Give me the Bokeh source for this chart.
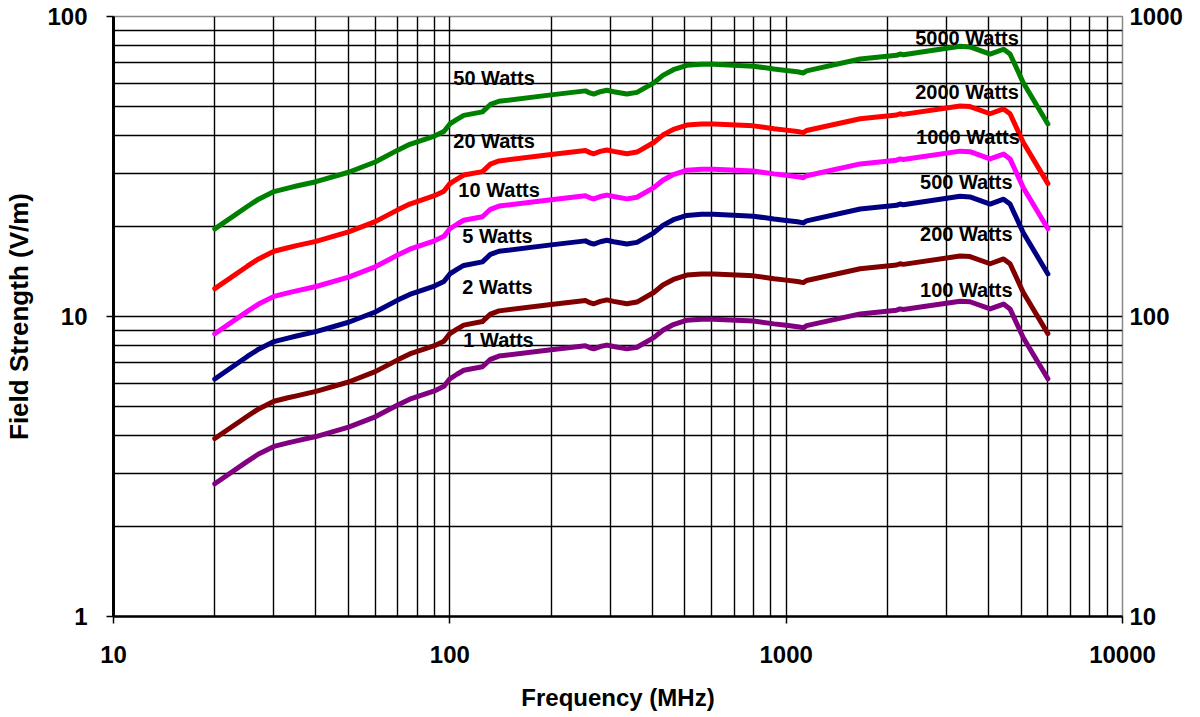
from bokeh.plotting import figure
from bokeh.models import (LogAxis, Range1d, LogScale, FixedTicker, PrintfTickFormatter)
from bokeh.core.properties import value
from bokeh.embed import file_html
from bokeh.resources import INLINE

# ---------------- data ----------------
freq_mhz = [20, 25, 27, 30, 33, 35, 40, 50, 60, 70, 76, 90, 96, 100, 105, 110, 125, 132, 140, 200,
            253, 262, 268, 280, 293, 307, 336, 360, 404, 430, 462, 507, 560, 608, 800, 920,
            1000, 1080, 1125, 1150, 1660, 2130, 2180, 2230, 3290, 3520, 4040, 4430, 4630,
            5070, 6000]

w1 = [2.77, 3.29, 3.48, 3.69, 3.79, 3.85, 3.98, 4.28, 4.63, 5.07, 5.30, 5.65, 5.85, 6.20, 6.42, 6.62, 6.80,
      7.20, 7.38, 7.75, 7.99, 7.85, 7.80, 7.94, 8.03, 7.94, 7.80, 7.90, 8.50, 9.00, 9.40, 9.72,
      9.80, 9.80, 9.66, 9.45, 9.35, 9.25, 9.17, 9.32, 10.2, 10.5, 10.6, 10.55, 11.25, 11.2,
      10.6, 11.0, 10.6, 8.5, 6.2]
w2 = [3.92, 4.65, 4.92, 5.22, 5.36, 5.44, 5.63, 6.05, 6.55, 7.17, 7.50, 7.99, 8.27, 8.77, 9.08, 9.36, 9.62,
      10.18, 10.44, 10.96, 11.30, 11.10, 11.03, 11.23, 11.36, 11.23, 11.03, 11.17, 12.02, 12.73,
      13.29, 13.75, 13.86, 13.86, 13.66, 13.36, 13.22, 13.08, 12.97, 13.18, 14.43, 14.85, 14.99,
      14.92, 15.91, 15.84, 14.99, 15.56, 14.99, 12.02, 8.77]
w5 = [6.19, 7.36, 7.78, 8.25, 8.47, 8.61, 8.90, 9.57, 10.35, 11.34, 11.85, 12.63, 13.08, 13.86, 14.36, 14.80,
      15.21, 16.10, 16.50, 17.33, 17.87, 17.55, 17.44, 17.75, 17.96, 17.75, 17.44, 17.66, 19.01,
      20.12, 21.02, 21.73, 21.91, 21.91, 21.60, 21.13, 20.91, 20.68, 20.51, 20.84, 22.81, 23.48,
      23.70, 23.59, 25.16, 25.04, 23.70, 24.60, 23.70, 19.01, 13.86]
w10 = [8.76, 10.40, 11.00, 11.67, 11.99, 12.17, 12.59, 13.53, 14.64, 16.03, 16.76, 17.87, 18.50, 19.61, 20.30,
       20.93, 21.50, 22.77, 23.34, 24.51, 25.27, 24.82, 24.67, 25.11, 25.39, 25.11, 24.67, 24.98,
       26.88, 28.46, 29.73, 30.74, 30.99, 30.99, 30.55, 29.88, 29.57, 29.25, 29.00, 29.47, 32.26,
       33.20, 33.52, 33.36, 35.58, 35.42, 33.52, 34.79, 33.52, 26.88, 19.61]
w20 = [12.39, 14.71, 15.56, 16.50, 16.95, 17.22, 17.80, 19.14, 20.71, 22.67, 23.70, 25.27, 26.16, 27.73, 28.71,
       29.61, 30.41, 32.20, 33.00, 34.66, 35.73, 35.11, 34.88, 35.51, 35.91, 35.51, 34.88, 35.33,
       38.01, 40.25, 42.04, 43.47, 43.83, 43.83, 43.20, 42.26, 41.81, 41.37, 41.01, 41.68, 45.62,
       46.96, 47.40, 47.18, 50.31, 50.09, 47.40, 49.19, 47.40, 38.01, 27.73]
w50 = [19.59, 23.26, 24.61, 26.09, 26.80, 27.22, 28.14, 30.26, 32.74, 35.85, 37.48, 39.95, 41.37, 43.84, 45.40,
       46.81, 48.08, 50.91, 52.18, 54.80, 56.50, 55.51, 55.15, 56.14, 56.78, 56.14, 55.15, 55.86,
       60.10, 63.64, 66.47, 68.73, 69.30, 69.30, 68.31, 66.82, 66.12, 65.41, 64.84, 65.90, 72.13,
       74.25, 74.95, 74.60, 79.55, 79.20, 74.95, 77.78, 74.95, 60.10, 43.84]

series = [w50, w20, w10, w5, w2, w1]
colors = ["#008000", "#FF0000", "#FF00FF", "#000080", "#800000", "#800080"]

left_labels = ["50 Watts", "20 Watts", "10 Watts", "5 Watts", "2 Watts", "1 Watts"]
left_label_x = [102.4, 102.4, 106, 108.9, 108.9, 109.7]
left_label_y = [62.2, 38.6, 26.5, 18.5, 12.5, 8.38]

right_labels = ["5000 Watts", "2000 Watts", "1000 Watts", "500 Watts", "200 Watts", "100 Watts"]
right_label_x = [2418, 2418, 2434, 2500, 2500, 2500]
right_label_y = [85.1, 56.2, 39.8, 28.0, 18.9, 12.3]

x_major = [10, 100, 1000, 10000]
x_minor = [m * d for d in (10, 100, 1000) for m in range(2, 10)]
y_major = [1, 10, 100]
y_minor = [m * d for d in (1, 10) for m in range(2, 10)]
yr_major = [10, 100, 1000]

FONT = "Liberation Sans"

p = figure(x_axis_type="log", y_axis_type="log", x_range=(10, 10000), y_range=(1, 100),
           frame_width=1009, frame_height=600, min_border_left=113, min_border_top=16,
           min_border_bottom=90, min_border_right=66,
           output_backend="svg", toolbar_location=None,
           x_axis_label="Frequency (MHz)", y_axis_label="Field Strength (V/m)")

p.outline_line_color = "#888888"
p.outline_line_width = 1.5

# grids
p.xgrid.ticker = FixedTicker(ticks=x_major, minor_ticks=x_minor)
p.ygrid.ticker = FixedTicker(ticks=y_major, minor_ticks=y_minor)
for g in (p.xgrid, p.ygrid):
    g.grid_line_color = "#000000"
    g.grid_line_width = 1.4
    g.minor_grid_line_color = "#000000"
    g.minor_grid_line_width = 1.4

# axes
for ax in (p.xaxis[0], p.yaxis[0]):
    ax.major_label_text_font = FONT
    ax.major_label_text_font_style = "bold"
    ax.major_label_text_font_size = "24px"
    ax.major_label_text_color = "#000000"
    ax.axis_label_text_font = FONT
    ax.axis_label_text_font_style = "bold"
    ax.axis_label_text_font_size = "24px"
    ax.axis_label_text_color = "#000000"
    ax.axis_line_color = "#000000"
    ax.major_tick_line_color = "#000000"
    ax.major_tick_line_width = 1.5
    ax.major_tick_in = 0
    ax.major_tick_out = 7
    ax.minor_tick_in = 0
    ax.minor_tick_out = 0
    ax.formatter = PrintfTickFormatter(format="%d")

p.xaxis[0].ticker = FixedTicker(ticks=x_major)
p.yaxis[0].ticker = FixedTicker(ticks=y_major)
p.xaxis[0].axis_line_width = 2.5
p.yaxis[0].axis_line_width = 3
p.xaxis[0].major_label_standoff = 22
p.xaxis[0].axis_label_standoff = 18
p.yaxis[0].major_label_standoff = 19
p.yaxis[0].axis_label_standoff = 10
p.yaxis[0].axis_label_text_font_size = "26px"

# right axis
p.extra_y_ranges = {"right": Range1d(10, 1000)}
p.extra_y_scales = {"right": LogScale()}
rax = LogAxis(y_range_name="right", ticker=FixedTicker(ticks=yr_major),
              formatter=PrintfTickFormatter(format="%d"))
rax.major_label_text_font = FONT
rax.major_label_text_font_style = "bold"
rax.major_label_text_font_size = "24px"
rax.major_label_text_color = "#000000"
rax.axis_line_color = None
rax.major_tick_in = 0
rax.major_tick_out = 0
rax.minor_tick_in = 0
rax.minor_tick_out = 0
rax.major_label_standoff = 7
p.add_layout(rax, "right")

# lines
for ys, c in zip(series, colors):
    p.line(freq_mhz, ys, line_color=c, line_width=5, line_join="round", line_cap="round")

# annotations
p.text(x=left_label_x, y=left_label_y, text=left_labels, text_font=value(FONT),
       text_font_style="bold", text_font_size="20px", text_color="#000000",
       text_align="left", text_baseline="middle")
p.text(x=right_label_x, y=right_label_y, text=right_labels, text_font=value(FONT),
       text_font_style="bold", text_font_size="20px", text_color="#000000",
       text_align="left", text_baseline="middle")

open("out.html", "w").write(file_html(p, INLINE))
